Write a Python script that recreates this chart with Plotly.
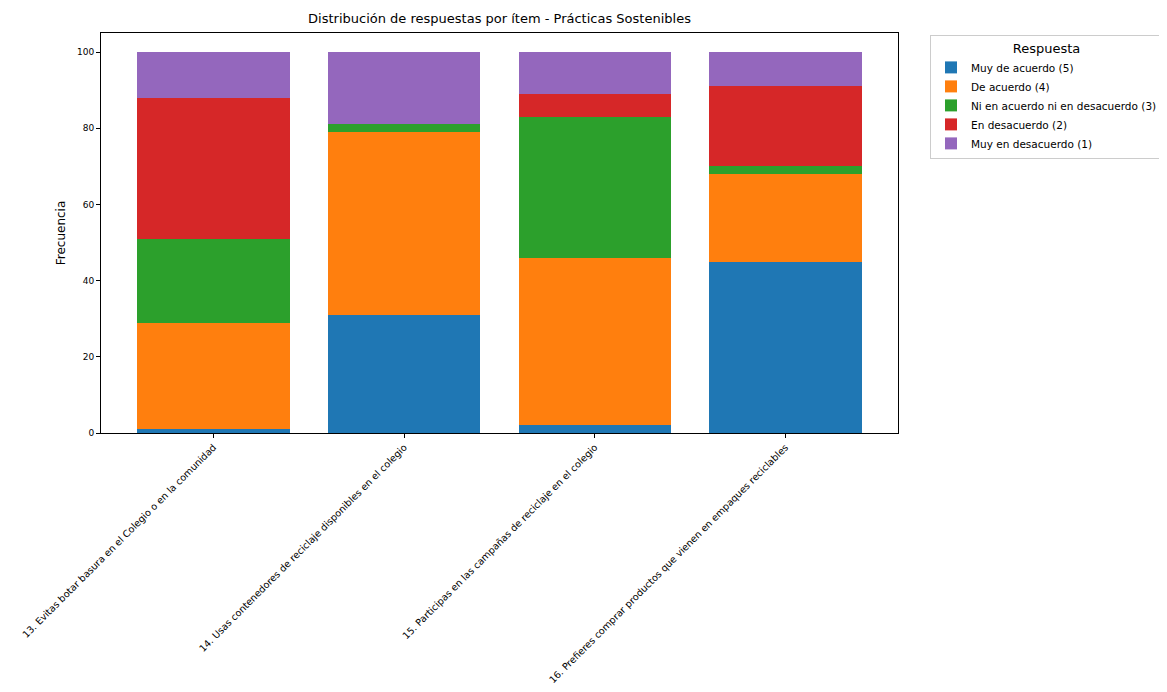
import plotly.graph_objects as go

items = [
    "13. Evitas botar basura en el Colegio o en la comunidad",
    "14. Usas contenedores de reciclaje disponibles en el colegio",
    "15. Participas en las campañas de reciclaje en el colegio",
    "16. Prefieres comprar productos que vienen en empaques reciclables",
]
series_names = [
    "Muy de acuerdo (5)",
    "De acuerdo (4)",
    "Ni en acuerdo ni en desacuerdo (3)",
    "En desacuerdo (2)",
    "Muy en desacuerdo (1)",
]
muy_de_acuerdo = [1, 31, 2, 45]
de_acuerdo = [28, 48, 44, 23]
ni_ni = [22, 2, 37, 2]
en_desacuerdo = [37, 0, 6, 21]
muy_en_desacuerdo = [12, 19, 11, 9]
colors = ["#1f77b4", "#ff7f0e", "#2ca02c", "#d62728", "#9467bd"]

values = [muy_de_acuerdo, de_acuerdo, ni_ni, en_desacuerdo, muy_en_desacuerdo]

fig = go.Figure()
for name, vals, col in zip(series_names, values, colors):
    fig.add_trace(go.Bar(
        x=list(range(len(items))), y=vals, name=name,
        marker=dict(color=col, line=dict(width=0)),
        width=0.8,
    ))

font = "DejaVu Sans"
W, H = 1151, 676
L, T, PW, PH = 93, 25, 797, 400
fig.update_layout(
    barmode="stack",
    width=W, height=H,
    margin=dict(l=L, r=W - L - PW, t=T, b=H - T - PH, autoexpand=False),
    paper_bgcolor="white", plot_bgcolor="white",
    font=dict(family=font, color="black"),
    title=dict(text="Distribución de respuestas por ítem - Prácticas Sostenibles",
               x=(L + PW / 2) / W, xanchor="center", y=1 - 10 / H, yanchor="middle",
               font=dict(size=13, family=font, color="black")),
    xaxis=dict(
        tickmode="array", tickvals=list(range(len(items))), ticktext=items,
        tickangle=-45, range=[-0.59, 3.59], automargin=False,
        showline=True, linecolor="black", linewidth=1, mirror=True,
        ticks="outside", ticklen=4, tickcolor="black",
        tickfont=dict(size=9.6, family=font), showgrid=False, zeroline=False,
    ),
    yaxis=dict(
        range=[0, 105], tickvals=[0, 20, 40, 60, 80, 100], automargin=False,
        showline=True, linecolor="black", linewidth=1, mirror=True,
        ticks="outside", ticklen=4, tickcolor="black",
        tickfont=dict(size=9, family=font), showgrid=False, zeroline=False,
        title=dict(text="Frecuencia", font=dict(size=12, family=font), standoff=8),
    ),
    legend=dict(
        x=(922 - L) / PW, y=0.995, xanchor="left", yanchor="top",
        bordercolor="#cccccc", borderwidth=1, bgcolor="white",
        font=dict(size=10.5, family=font),
        title=dict(text="Respuesta", side="top center", font=dict(size=13, family=font)),
        tracegroupgap=0, itemwidth=30,
        traceorder="normal",
    ),
    bargap=0.2,
)

fig.write_html("out.html")
